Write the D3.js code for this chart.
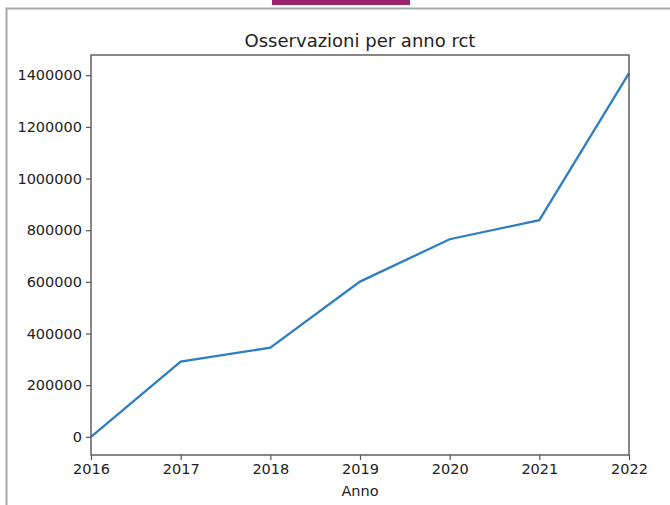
<!DOCTYPE html>
<html>
<head>
<meta charset="utf-8">
<script src="https://cdn.jsdelivr.net/npm/d3@7"></script>
<style>
    body { margin: 0; background: #fff; }
    svg { display: block; font-family: "DejaVu Sans", sans-serif; }
</style>
</head>
<body>
<script>
// dati
let years = [2016, 2017, 2018, 2019, 2020, 2021, 2022];
let counts = [0, 291000, 345000, 601000, 765000, 839000, 1408000];
let yTicks = [0, 200000, 400000, 600000, 800000, 1000000, 1200000, 1400000];

let width = 670,
    height = 505,
    plotLeft = 91,
    plotRight = 629,
    plotTop = 55,
    plotBottom = 455;

let svg = d3.select("body").append("svg")
    .attr("width", width)
    .attr("height", height);

// cornice della pagina
svg.append("rect")
    .attr("x", 272).attr("y", 0)
    .attr("width", 138).attr("height", 5)
    .attr("fill", "#9e2272");

svg.append("path")
    .attr("d", `M 6.5 505 L 6.5 8.5 L 670 8.5`)
    .attr("fill", "none")
    .attr("stroke", "#a8a8a8")
    .attr("stroke-width", 2);

// margini 5% come matplotlib
let maxV = d3.max(counts);
let x = d3.scaleLinear()
    .domain([years[0], years[years.length - 1]])
    .range([plotLeft, plotRight]);
let y = d3.scaleLinear()
    .domain([-0.05 * maxV, maxV * 1.05])
    .range([plotBottom, plotTop]);

let line = d3.line()
    .x(function (d, i) { return x(years[i]) })
    .y(function (d) { return y(d) });

svg.append("path")
    .datum(counts)
    .attr("d", line)
    .attr("fill", "none")
    .attr("stroke", "#2f7fc0")
    .attr("stroke-width", 2.3);

// assi
let xAxis = svg.append("g")
    .attr("transform", `translate(0, ${plotBottom})`)
    .call(d3.axisBottom(x).tickValues(years).tickFormat(d3.format("d")).tickSize(5).tickPadding(4));

let yAxis = svg.append("g")
    .attr("transform", `translate(${plotLeft}, 0)`)
    .call(d3.axisLeft(y).tickValues(yTicks).tickFormat(d3.format("d")).tickSize(5).tickPadding(4));

[xAxis, yAxis].forEach(function (a) {
    a.select(".domain").remove();
    a.selectAll("line").attr("stroke", "#555").attr("stroke-width", 1.2);
    a.selectAll("text")
        .attr("fill", "#222")
        .style("font-size", "14.5px")
        .style("font-family", "DejaVu Sans, sans-serif");
});

svg.append("rect")
    .attr("x", plotLeft).attr("y", plotTop)
    .attr("width", plotRight - plotLeft)
    .attr("height", plotBottom - plotTop)
    .attr("fill", "none")
    .attr("stroke", "#555")
    .attr("stroke-width", 1.4);

svg.append("text")
    .attr("x", 360)
    .attr("y", 47)
    .attr("text-anchor", "middle")
    .attr("fill", "#222")
    .style("font-size", "18px")
    .text("Osservazioni per anno rct");

svg.append("text")
    .attr("x", (plotLeft + plotRight) / 2)
    .attr("y", 496)
    .attr("text-anchor", "middle")
    .attr("fill", "#222")
    .style("font-size", "14.5px")
    .text("Anno");
</script>
</body>
</html>
